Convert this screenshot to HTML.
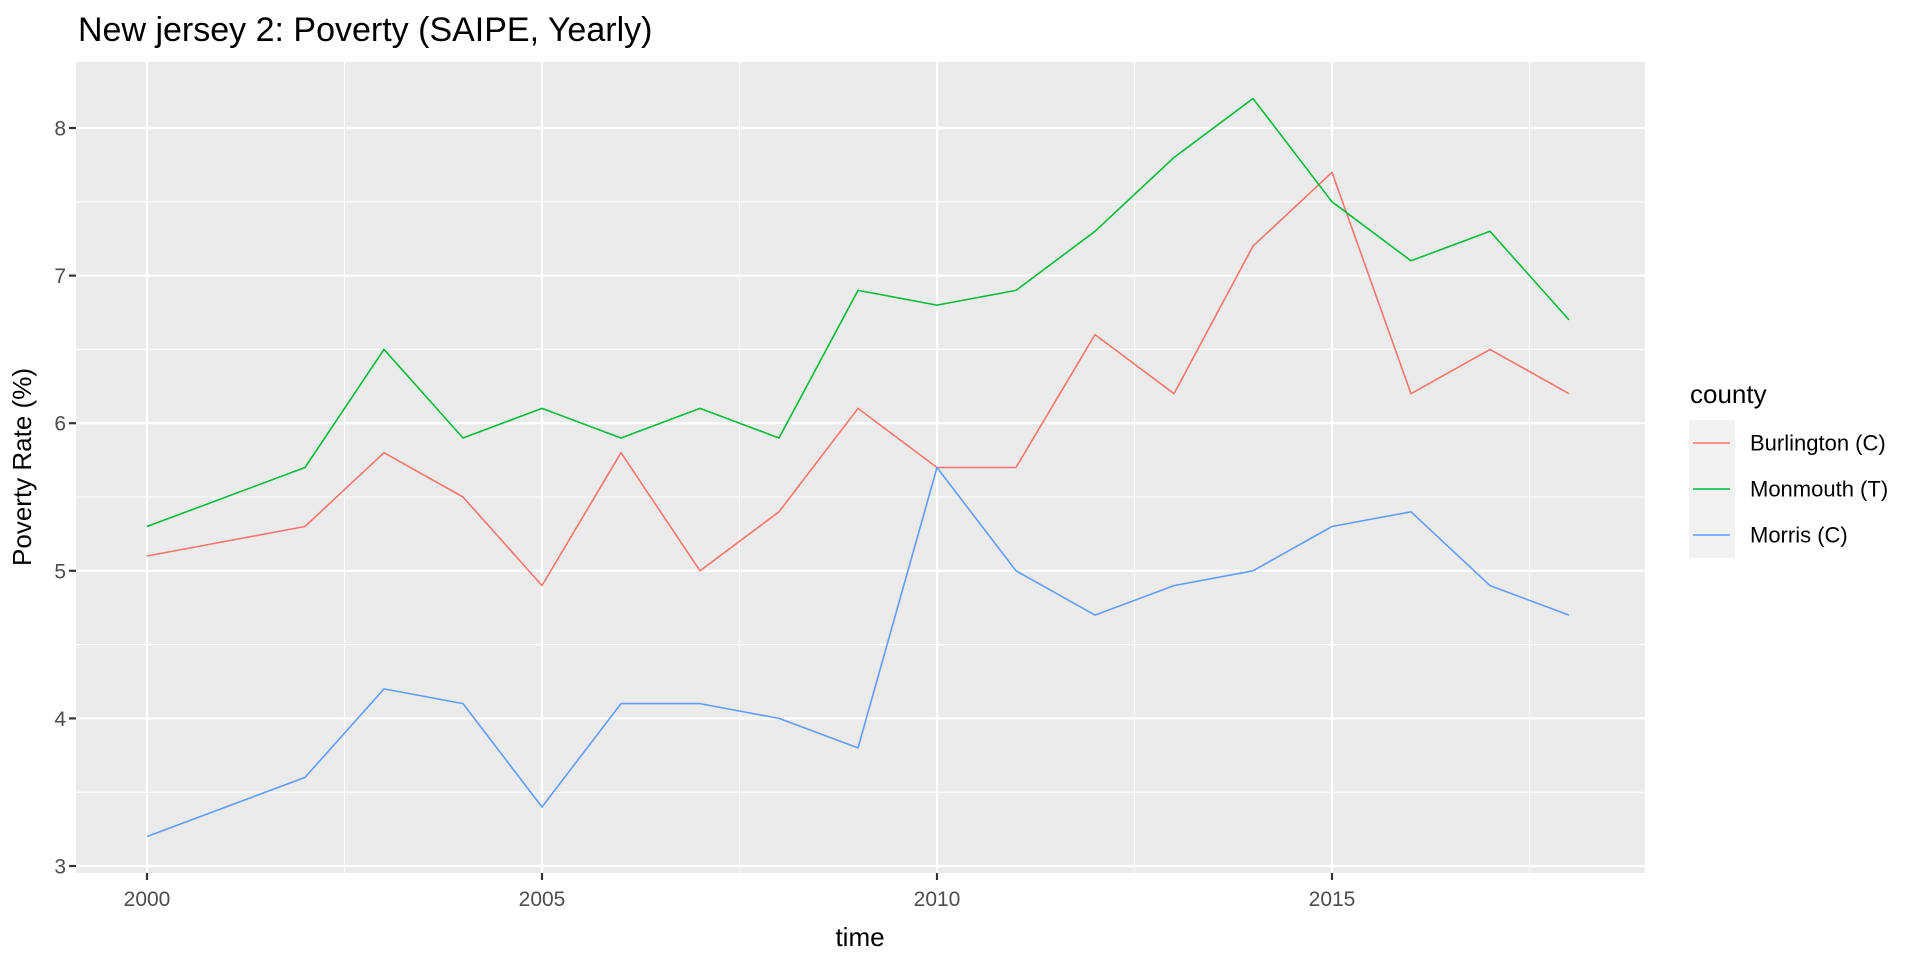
<!DOCTYPE html>
<html><head><meta charset="utf-8"><style>
html,body{margin:0;padding:0;background:#fff;}
svg{display:block;font-family:"Liberation Sans",Arial,sans-serif;}
</style></head><body>
<svg id="chart" width="1920" height="960" viewBox="0 0 1920 960">
<text x="78" y="41" font-size="34" fill="#000">New jersey 2: Poverty (SAIPE, Yearly)</text>
<rect x="76" y="62" width="1569" height="811" fill="#EBEBEB"/>
<g id="grid"></g>
<g id="axes"></g>
<g id="series"></g>
<text x="860" y="946" font-size="26" text-anchor="middle" fill="#000">time</text>
<text transform="translate(31,467) rotate(-90)" font-size="26" text-anchor="middle" fill="#000">Poverty Rate (%)</text>
<g>
<text x="1690" y="403" font-size="26" fill="#000">county</text>
<rect x="1689" y="420" width="46" height="138" fill="#F2F2F2"/>
<g id="legend-items"></g>
</g>
</svg>
<script>
const years = [2000,2002,2003,2004,2005,2006,2007,2008,2009,2010,2011,2012,2013,2014,2015,2016,2017,2018];
const burlington = [5.1,5.3,5.8,5.5,4.9,5.8,5.0,5.4,6.1,5.7,5.7,6.6,6.2,7.2,7.7,6.2,6.5,6.2];
const monmouth = [5.3,5.7,6.5,5.9,6.1,5.9,6.1,5.9,6.9,6.8,6.9,7.3,7.8,8.2,7.5,7.1,7.3,6.7];
const morris = [3.2,3.6,4.2,4.1,3.4,4.1,4.1,4.0,3.8,5.7,5.0,4.7,4.9,5.0,5.3,5.4,4.9,4.7];
const seriesNames = ["Burlington (C)","Monmouth (T)","Morris (C)"];
const seriesColors = ["#F8766D","#00BA38","#619CFF"];
const xTicks = [2000,2005,2010,2015];
const xMinor = [2002.5,2007.5,2012.5,2017.5];
const yTicks = [3,4,5,6,7,8];
const yMinor = [3.5,4.5,5.5,6.5,7.5];

const NS="http://www.w3.org/2000/svg";
const X0=76,X1=1645,Y0=62,Y1=873;
function xs(v){return 147+(v-2000)*(1569-147)/18;}
function ys(v){return 866-(v-3)*(866-128)/5;}
function mk(tag,attrs,parent){const e=document.createElementNS(NS,tag);for(const k in attrs)e.setAttribute(k,attrs[k]);parent.appendChild(e);return e;}
const grid=document.getElementById('grid'),axes=document.getElementById('axes'),ser=document.getElementById('series'),leg=document.getElementById('legend-items');

yMinor.forEach(v=>{const l=mk('line',{x1:X0,x2:X1,y1:ys(v),y2:ys(v),stroke:'#fff','stroke-width':1.1},grid);

});
xMinor.forEach(v=>{const l=mk('line',{x1:xs(v),x2:xs(v),y1:Y0,y2:Y1,stroke:'#fff','stroke-width':1.1},grid);

});
yTicks.forEach(v=>{const l=mk('line',{x1:X0,x2:X1,y1:ys(v),y2:ys(v),stroke:'#fff','stroke-width':2.2},grid);


const t=mk('line',{x1:X0-7,x2:X0,y1:ys(v),y2:ys(v),stroke:'#333','stroke-width':2.2},axes);


const tx=mk('text',{x:X0-10,y:ys(v)+7.5,'font-size':21,'text-anchor':'end',fill:'#4D4D4D'},axes);
tx.textContent=v;

});
xTicks.forEach(v=>{const l=mk('line',{x1:xs(v),x2:xs(v),y1:Y0,y2:Y1,stroke:'#fff','stroke-width':2.2},grid);


const t=mk('line',{x1:xs(v),x2:xs(v),y1:Y1,y2:Y1+7,stroke:'#333','stroke-width':2.2},axes);


const tx=mk('text',{x:xs(v),y:906,'font-size':21,'text-anchor':'middle',fill:'#4D4D4D'},axes);
tx.textContent=v;

});

[burlington,monmouth,morris].forEach((vals,i)=>{
const p=mk('polyline',{points:vals.map((v,j)=>xs(years[j]).toFixed(1)+','+ys(v).toFixed(1)).join(' '),fill:'none',stroke:seriesColors[i],'stroke-width':1.6,'stroke-linejoin':'round'},ser);


const ky=443+i*46;
const k=mk('line',{x1:1693,x2:1730,y1:ky,y2:ky,stroke:seriesColors[i],'stroke-width':1.6},leg);


const t=mk('text',{x:1750,y:ky+7.5,'font-size':22,fill:'#000'},leg);
t.textContent=seriesNames[i];


});
</script>
</body></html>
